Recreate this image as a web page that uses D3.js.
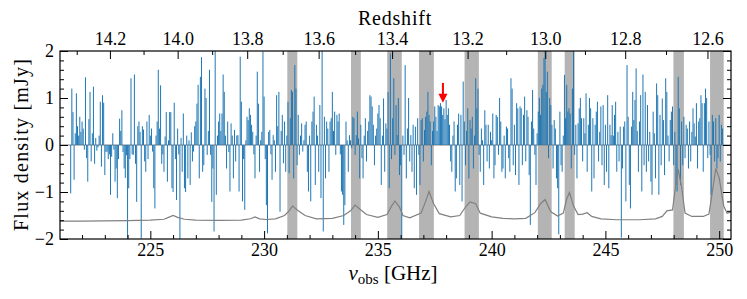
<!DOCTYPE html>
<html>
<head>
<meta charset="utf-8">
<script src="https://cdn.jsdelivr.net/npm/d3@7"></script>
<style>
body { margin: 0; background: #fff; }
svg { display: block; }
svg text { font-family: "Liberation Serif", "DejaVu Serif", serif; fill: #000; }
</style>
</head>
<body>
<svg width="747" height="299"></svg>
<script>
// channel grid of the spectrum (GHz)
var freqStart = 221.5, chanWidth = 0.05;

// flux density per channel (mJy)
var flux = [
  -1.03, 1.2, 0.7, -0.74, 0.25, 1.1, 0.4, 0.2, 0.6, 0.28,
  0.5, 0.35, -0.1, 1.44, -0.28, -0.78, 0.55, 1.13, -0.35, 0.25,
  1.24, -0.4, 0.15, -0.12, -0.05, 0.2, 0.92, -0.46, 1.06, 0.9,
  -0.64, -0.15, -0.14, -0.3, -0.2, -1.06, -0.25, 0.25, -0.1, -0.78,
  -0.5, -1.13, -0.3, 0.56, 0.3, 0.74, -0.15, -0.5, -0.7, -0.22,
  -1.99, -0.92, -0.3, 1.42, -0.2, -0.21, 1.5, -0.4, -1.21, 0.4,
  0.5, 0.28, -1.99, 0.4, 0.33, -0.35, -0.57, 0.5, -0.3, 0.64,
  0.2, 0.35, -0.14, -0.92, -1.35, 0.2, 0.5, 1.6, 0.35, 1.27,
  -0.4, -0.2, -0.57, 0.18, 0.7, -0.78, 0.1, 0.7,
  0.7, -0.92, -1.0, 0.9, -0.3, -1.17, 0.35, -0.2, -2.0, 0.15,
  -0.57, 0.67, -0.92, -1.0, 0.2, -0.71, 0.1, -0.85, 0.27, -0.35,
  -0.14, 0.4, 0.5, 0.88, 1.28, -0.71, 1.45, 1.87, -0.57, -0.43,
  1.2, 1.0, -0.21, 0.3, 1.6, -0.21, -1.21, -0.5, -1.84, 2.3,
  -1.06, 0.2, 0.5, 0.67, 0.3, 0.67, 1.5, 1.13, 0.2, -0.5,
  0.5, -0.15, -0.99, 0.46, 0.2, -0.71, 0.32, -0.35, 0.2, 0.21,
  -0.99, 1.88, 0.92, -1.2, -0.3, -1.38, 0.1, 0.6, 0.53, 0.78,
  0.64, 0.43, 0.28, -0.2, -0.71, 0.2, 1.56, 0.88, -0.57, 0.1,
  0.28, 1.99, 1.03, -0.3, -1.28, -1.88, 0.28, 0.32, -0.2, -0.74,
  0.21, 0.1, -0.57, 1.06, 0.4, 1.13, -1.42,
  0.3, 0.64, -0.39, 0.5, -0.57, 0.2, 0.92, -0.6, 0.57, 1.17,
  1.13, -0.71, 1.7, 1.2, -0.43, 0.64, -0.21, 0.2, 0.46, -0.14,
  0.1, 0.43, 0.5, -0.57, -0.99, 0.2, -1.2, 0.5, 0.71, 1.03,
  -0.85, 0.43, 0.2, -0.57, 0.85, -1.13, 2.3, -1.84, 0.6, -0.71,
  0.5, 0.35, -0.57, 0.5, 0.57, 1.13, 0.3, 0.71, -0.21, 0.64,
  0.5, 0.67, -0.2, -0.99, -1.06, -1.7, -1.28, 0.5, 0.1, -0.57,
  0.21, 0.1, -0.07, 0.6, 0.57, -0.21, 0.21, 0.71, 0.14, -0.71,
  0.43, -0.28, -0.71, 0.2, 0.57, -0.35, 0.3, 0.5, 1.06, 1.03,
  0.82, 0.43, -0.43, 0.2, 0.35, 0.67, 0.85, 0.57, -0.85, 0.2,
  0.99, -0.57, 0.46, 0.35, 1.13, -0.92, 1.95,
  -0.3, 0.57, 1.42, -0.21, 0.85, 0.21, 1.0, -0.64, -0.43, -2.2,
  0.2, -0.21, 1.7, -0.71, 0.35, 1.0, -0.35, 0.21, -0.57, 0.43,
  -0.92, 0.39, -1.06, 0.57, -0.21, -0.85, 0.53, 0.57, -0.35, 0.32,
  0.6, 0.71, 1.13, 0.64, 0.5, -0.43, 0.3, 0.5, 0.82, 0.6,
  0.3, 0.85, 0.82, 0.89, 0.82, 0.64, 0.78, 0.55, 0.96, 0.64,
  0.78, 0.43, -0.35, -0.57, 0.2, 0.5, -0.99, -0.71, 0.43, 0.67,
  -0.85, 0.64, -1.2, 1.35, 0.5, -0.43, 0.3, 0.78, -0.71, 0.53,
  0.35, 0.6, -0.5, 0.2, 1.42, 0.78, 1.2, -0.21, -0.57, 0.35,
  0.1, -0.85, 0.74, 0.43, -0.35, 0.43, -0.5, 0.28, 0.1, 0.67,
  -0.71, -0.43, 0.64, 0.6, -0.21, 1.0, 0.5, -0.57,
  -0.5, 0.2, -0.71, 0.39, 0.35, -0.28, -0.57, 1.42, 1.2, -0.43,
  0.43, -0.64, 0.89, 0.78, -0.85, 0.82, 0.78, -0.43, 0.64, 1.03,
  -0.35, 0.74, 0.6, -0.64, -1.7, 0.5, 1.17, 0.35, -0.21, -0.85,
  0.25, 0.71, 1.0, 0.64, 1.2, 1.28, 1.85, 2.3, 1.13, 1.56,
  -0.28, 1.0, 0.85, 0.43, -0.5, 0.53, 0.35, -0.71, -0.92, -1.9,
  0.71, -0.43, -0.57, 0.2, 1.49, 0.57, 1.28, 0.71, 0.78, 0.67,
  -0.5, 1.2, 2.1, -0.21, 0.43, -0.71, 0.46, 0.78, 1.0, 0.57,
  -0.35, 0.57, 0.25, 1.1, -0.57, 0.43, 1.0, 0.78, -0.99, 0.57,
  -0.71, 0.43, 0.71, 0.92, -0.35, 0.28, 0.82, -0.43, 0.85, -0.85,
  0.43, -0.57, 1.06, -0.92, 0.43, 0.21, 0.85,
  0.2, 0.64, 0.92, -0.57, 0.28, -0.35, 0.39, -1.97, -0.5, 0.39,
  0.5, -1.2, 1.7, 0.6, -0.85, -1.35, 0.39, 1.13, 0.53, 0.96,
  1.63, 0.3, -0.57, 0.5, 1.06, -0.99, 1.5, -0.43, 1.13, -0.57,
  0.85, -0.35, 0.28, -0.78, -1.06, 0.71, 0.25, -0.71, 1.31, 1.06,
  -1.06, 0.64, -0.43, 0.99, 0.53, -0.64, 1.42, 1.13, 0.2, -0.35,
  0.53, 0.71, 0.82, -0.43, 0.28, -0.85, -0.99, 1.45, 0.78, -0.85,
  0.5, -0.43, 0.6, -0.28, 0.43, 0.35, -0.5, 0.5, -0.35, 0.28,
  0.78, 0.46, 0.18, 0.89, -0.5, 0.5, 0.57, 1.06, 0.89, -0.57,
  0.89, 1.2, 1.0, -0.28, 0.5, -0.21, -1.06, 0.64, 0.5, -0.35,
  0.57, -0.5, -0.28, 0.64, -0.35, 0.43, 0.35
];

// shaded atmospheric bands (GHz)
var bandLo = [231.02, 233.82, 235.41, 236.81, 238.81, 242.03, 243.21, 247.99, 249.60];
var bandHi = [231.46, 234.25, 236.05, 237.46, 239.44, 242.64, 243.65, 248.45, 250.20];

// noise curve
var noiseFreq = [221.0, 222, 223, 224, 225, 225.6, 225.85, 226.0, 226.2, 226.5, 227, 228, 229,
  229.4, 229.6, 229.8, 230.1, 230.5, 230.9, 231.1, 231.25, 231.5, 231.8, 232.3, 233, 233.5,
  233.8, 234.0, 234.2, 234.5, 235.0, 235.4, 235.6, 235.75, 235.95, 236.1, 236.4, 236.9, 237.1,
  237.25, 237.45, 237.7, 238.2, 238.6, 238.85, 239.05, 239.3, 239.5, 240, 240.5, 241, 241.5,
  241.9, 242.15, 242.35, 242.6, 242.9, 243.15, 243.3, 243.42, 243.6, 243.8, 244.0, 244.2, 244.4,
  244.8, 245.5, 246.5, 247.2, 247.5, 247.7, 247.95, 248.05, 248.2, 248.35, 248.5, 248.8, 249.3,
  249.55, 249.7, 249.85, 250.0, 250.2, 250.35, 250.52];
var noiseVal = [-1.62, -1.62, -1.615, -1.61, -1.60, -1.58, -1.53, -1.50, -1.54, -1.58, -1.60, -1.605, -1.60,
  -1.57, -1.53, -1.57, -1.585, -1.57, -1.50, -1.40, -1.30, -1.40, -1.50, -1.57, -1.56, -1.50,
  -1.40, -1.28, -1.36, -1.48, -1.54, -1.48, -1.30, -1.19, -1.32, -1.50, -1.55, -1.45, -1.20,
  -0.99, -1.25, -1.46, -1.53, -1.50, -1.32, -1.21, -1.25, -1.45, -1.53, -1.56, -1.57, -1.56,
  -1.44, -1.25, -1.16, -1.42, -1.51, -1.45, -1.15, -1.01, -1.30, -1.48, -1.47, -1.44, -1.52,
  -1.57, -1.59, -1.59, -1.57, -1.52, -1.40, -1.38, -1.0, -0.52, -0.9, -1.45, -1.52, -1.52,
  -1.47, -1.0, -0.50, -0.70, -1.3, -1.45, -1.42];

var ghzTicks = [225, 230, 235, 240, 245, 250];
var zTicks = [14.2, 14.0, 13.8, 13.6, 13.4, 13.2, 13.0, 12.8, 12.6];
var zMinor = [14.3, 14.1, 13.9, 13.7, 13.5, 13.3, 13.1, 12.9, 12.7];
var fluxTicks = [-2, -1, 0, 1, 2];
var restFreq = 3393.006;   // [OIII] 88um

// red arrow marking the line candidate
var arrowFreq = 237.86, arrowTop = 1.32, arrowTip = 0.9;

var serif = "'Liberation Serif', 'DejaVu Serif', serif";
var svg = d3.select("svg");
var pLeft = 60, pRight = 731, pTop = 51, pBottom = 239;

var x = d3.scaleLinear().domain([221.03, 250.52]).range([pLeft, pRight]);
var y = d3.scaleLinear().domain([-2, 2]).range([pBottom, pTop]);

svg.append("defs").append("clipPath").attr("id", "clip")
    .append("rect").attr("x", pLeft).attr("y", pTop)
    .attr("width", pRight - pLeft).attr("height", pBottom - pTop);

var plot = svg.append("g").attr("clip-path", "url(#clip)");

// bands
plot.selectAll("rect.band")
    .data(bandLo)
    .enter().append("rect")
    .attr("class", "band")
    .attr("x", function (d) { return x(d); })
    .attr("y", pTop)
    .attr("width", function (d, i) { return x(bandHi[i]) - x(d); })
    .attr("height", pBottom - pTop)
    .attr("fill", "#b4b4b4");

// zero line
plot.append("line")
    .attr("x1", pLeft).attr("x2", pRight)
    .attr("y1", y(0)).attr("y2", y(0))
    .attr("stroke", "#7f7f7f").attr("stroke-width", 1);

// spectrum
plot.selectAll("line.chan")
    .data(flux)
    .enter().append("line")
    .attr("class", "chan")
    .attr("x1", function (d, i) { return x(freqStart + i * chanWidth); })
    .attr("x2", function (d, i) { return x(freqStart + i * chanWidth); })
    .attr("y1", y(0))
    .attr("y2", function (d) { return y(d); })
    .attr("stroke", "#1f77b4")
    .attr("stroke-width", 1);

// noise
var noiseLine = d3.line()
    .x(function (d, i) { return x(noiseFreq[i]); })
    .y(function (d) { return y(d); });

plot.append("path")
    .datum(noiseVal)
    .attr("d", noiseLine)
    .attr("fill", "none")
    .attr("stroke", "#808080")
    .attr("stroke-width", 1.2);

// arrow
var ax = x(arrowFreq), ay0 = y(arrowTop), ay1 = y(arrowTip);
svg.append("line")
    .attr("x1", ax).attr("x2", ax)
    .attr("y1", ay0).attr("y2", ay1 - 7)
    .attr("stroke", "red").attr("stroke-width", 2);
svg.append("path")
    .attr("d", "M" + (ax - 4.5) + "," + (ay1 - 9) + "L" + (ax + 4.5) + "," + (ay1 - 9) + "L" + ax + "," + ay1 + "Z")
    .attr("fill", "red");

// axes
function styleAxis(g) {
    g.attr("font-family", serif).attr("font-size", 18);
    g.select(".domain").remove();
    g.selectAll(".tick line").attr("stroke", "#000").attr("stroke-width", 1);
    g.selectAll("text")
        .style("font-family", serif)
        .style("font-size", "18px")
        .attr("fill", "#000");
}

var minorGhz = d3.range(222, 251, 1).filter(function (d) { return d % 5 !== 0; });
var minorFlux = d3.range(-1.8, 2, 0.2).filter(function (d) { return Math.abs(d - Math.round(d)) > 0.01; });

svg.append("g").attr("transform", "translate(0," + pBottom + ")")
    .call(d3.axisBottom(x).tickValues(ghzTicks).tickSize(-8).tickPadding(4).tickFormat(d3.format("d")))
    .call(styleAxis);
svg.append("g").attr("transform", "translate(0," + pBottom + ")")
    .call(d3.axisBottom(x).tickValues(minorGhz).tickSize(-4).tickFormat(""))
    .call(styleAxis);

var fmtZ = function (d) { return d3.format(".1f")(restFreq / d - 1); };
svg.append("g").attr("transform", "translate(0," + pTop + ")")
    .call(d3.axisTop(x).tickValues(zTicks.map(function (z) { return restFreq / (1 + z); }))
        .tickSize(-8).tickPadding(6).tickFormat(fmtZ))
    .call(styleAxis);
svg.append("g").attr("transform", "translate(0," + pTop + ")")
    .call(d3.axisTop(x).tickValues(zMinor.map(function (z) { return restFreq / (1 + z); }))
        .tickSize(-4).tickFormat(""))
    .call(styleAxis);

svg.append("g").attr("transform", "translate(" + pLeft + ",0)")
    .call(d3.axisLeft(y).tickValues(fluxTicks).tickSize(-8).tickPadding(6)
        .tickFormat(function (d) { return d < 0 ? "\u2212" + Math.abs(d) : d; }))
    .call(styleAxis);
svg.append("g").attr("transform", "translate(" + pLeft + ",0)")
    .call(d3.axisLeft(y).tickValues(minorFlux).tickSize(-4).tickFormat(""))
    .call(styleAxis);
svg.append("g").attr("transform", "translate(" + pRight + ",0)")
    .call(d3.axisRight(y).tickValues(fluxTicks).tickSize(-8).tickFormat(""))
    .call(styleAxis);
svg.append("g").attr("transform", "translate(" + pRight + ",0)")
    .call(d3.axisRight(y).tickValues(minorFlux).tickSize(-4).tickFormat(""))
    .call(styleAxis);

// frame
svg.append("rect")
    .attr("x", pLeft).attr("y", pTop)
    .attr("width", pRight - pLeft).attr("height", pBottom - pTop)
    .attr("fill", "none").attr("stroke", "#000").attr("stroke-width", 1.2);

// titles
svg.append("text")
    .attr("x", 395).attr("y", 25)
    .attr("text-anchor", "middle")
    .style("font-family", serif)
    .style("font-size", "20px")
    .attr("letter-spacing", "0.8")
    .text("Redshift");

var xl = svg.append("text")
    .attr("x", 393).attr("y", 280)
    .attr("text-anchor", "middle")
    .style("font-family", serif)
    .style("font-size", "21px");
xl.append("tspan").style("font-style", "italic").text("\u03bd");
xl.append("tspan").attr("dy", 4).style("font-size", "15px").text("obs");
xl.append("tspan").attr("dy", -4).text(" [GHz]");

svg.append("text")
    .attr("transform", "translate(28,145) rotate(-90)")
    .attr("text-anchor", "middle")
    .style("font-family", serif)
    .style("font-size", "20px")
    .attr("textLength", 172)
    .attr("lengthAdjust", "spacing")
    .text("Flux density [mJy]");
</script>
</body>
</html>
